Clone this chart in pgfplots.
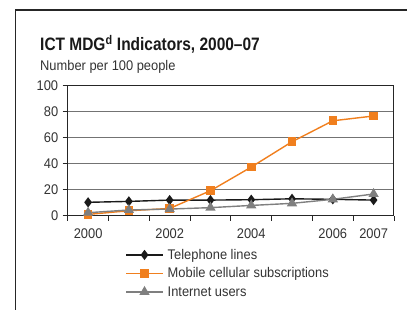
\documentclass[border=0pt]{standalone}
\usepackage{pgfplots}
\pgfplotsset{compat=1.18}
\usepackage{fontspec}
\setmainfont{Liberation Sans}[FakeStretch=0.92]
\newfontfamily\titlefont{Liberation Sans}[FakeStretch=0.86, Ligatures=TeX]
\definecolor{txt}{HTML}{333333}
\definecolor{mobile}{HTML}{F07F1E}
\definecolor{inet}{HTML}{7F7F7F}
\definecolor{tel}{HTML}{1A1A1A}
\begin{document}
\begin{tikzpicture}[x=1pt,y=1pt]
\draw[line width=1.3pt, color=black!85] (15.5,0) -- (15.5,300) -- (407,300);
\node[anchor=base west, inner sep=0, font=\titlefont\fontsize{18}{20}\selectfont\bfseries, text=black!90] at (40,259.3) {ICT MDG\textsuperscript{d} Indicators, 2000–07};
\node[anchor=base west, inner sep=0, font=\fontsize{14}{16}\selectfont, text=txt] at (40,239.3) {Number per 100 people};
\begin{axis}[
  at={(67.7pt,94.3pt)}, anchor=south west,
  scale only axis, width=326.3pt, height=130pt,
  xmin=-0.5, xmax=7.5, ymin=0, ymax=100,
  ytick={0,20,...,100},
  xtick={-0.5,0.5,...,7.5}, xticklabels={},
  extra x ticks={0,2,4,6,7},
  extra x tick labels={2000,2002,2004,2006,2007},
  extra x tick style={major tick length=0pt, xticklabel style={yshift=-9pt}},
  tick pos=left, tick align=outside,
  major tick length=5pt,
  every tick/.style={black!85, line width=0.8pt},
  ymajorgrids, grid style={black!55, line width=0.9pt},
  axis line style={black!85, line width=1pt},
  tick label style={font=\fontsize{14}{16}\selectfont, text=txt},
  yticklabel style={xshift=-1pt},
  /pgf/number format/assume math mode=true,
  legend style={at={(0.176,-0.24)}, anchor=north west, draw=none, fill=none,
    font=\fontsize{14}{16}\selectfont, text=txt, inner sep=0pt,
    row sep=3pt, nodes={inner xsep=4pt, inner ysep=2pt}},
  legend cell align=left,
  legend image code/.code={\draw[mark repeat=2,mark phase=2,#1] plot coordinates {(0pt,0pt) (18.5pt,0pt) (37pt,0pt)};},
  clip=false,
]
\addplot[tel, line width=1.4pt, mark=diamond*, mark size=4pt, mark options={fill=tel}] coordinates {
 (0,10.3) (1,11.0) (2,12.0) (3,12.0) (4,12.3) (5,13.0) (6,12.6) (7,12.0)};
\addlegendentry{Telephone lines}
\addplot[mobile, line width=1.4pt, mark=square*, mark size=3.6pt, mark options={fill=mobile}] coordinates {
 (0,1.0) (1,3.8) (2,5.6) (3,19.2) (4,37.4) (5,56.9) (6,73.0) (7,76.7)};
\addlegendentry{Mobile cellular subscriptions}
\addplot[inet, line width=1.4pt, mark=triangle*, mark size=4.6pt, mark options={fill=inet}] coordinates {
 (0,2.3) (1,4.4) (2,5.1) (3,6.2) (4,7.9) (5,9.5) (6,12.6) (7,16.7)};
\addlegendentry{Internet users}
\end{axis}
\pgfresetboundingbox
\useasboundingbox (0,0) rectangle (407,310);
\end{tikzpicture}
\end{document}
